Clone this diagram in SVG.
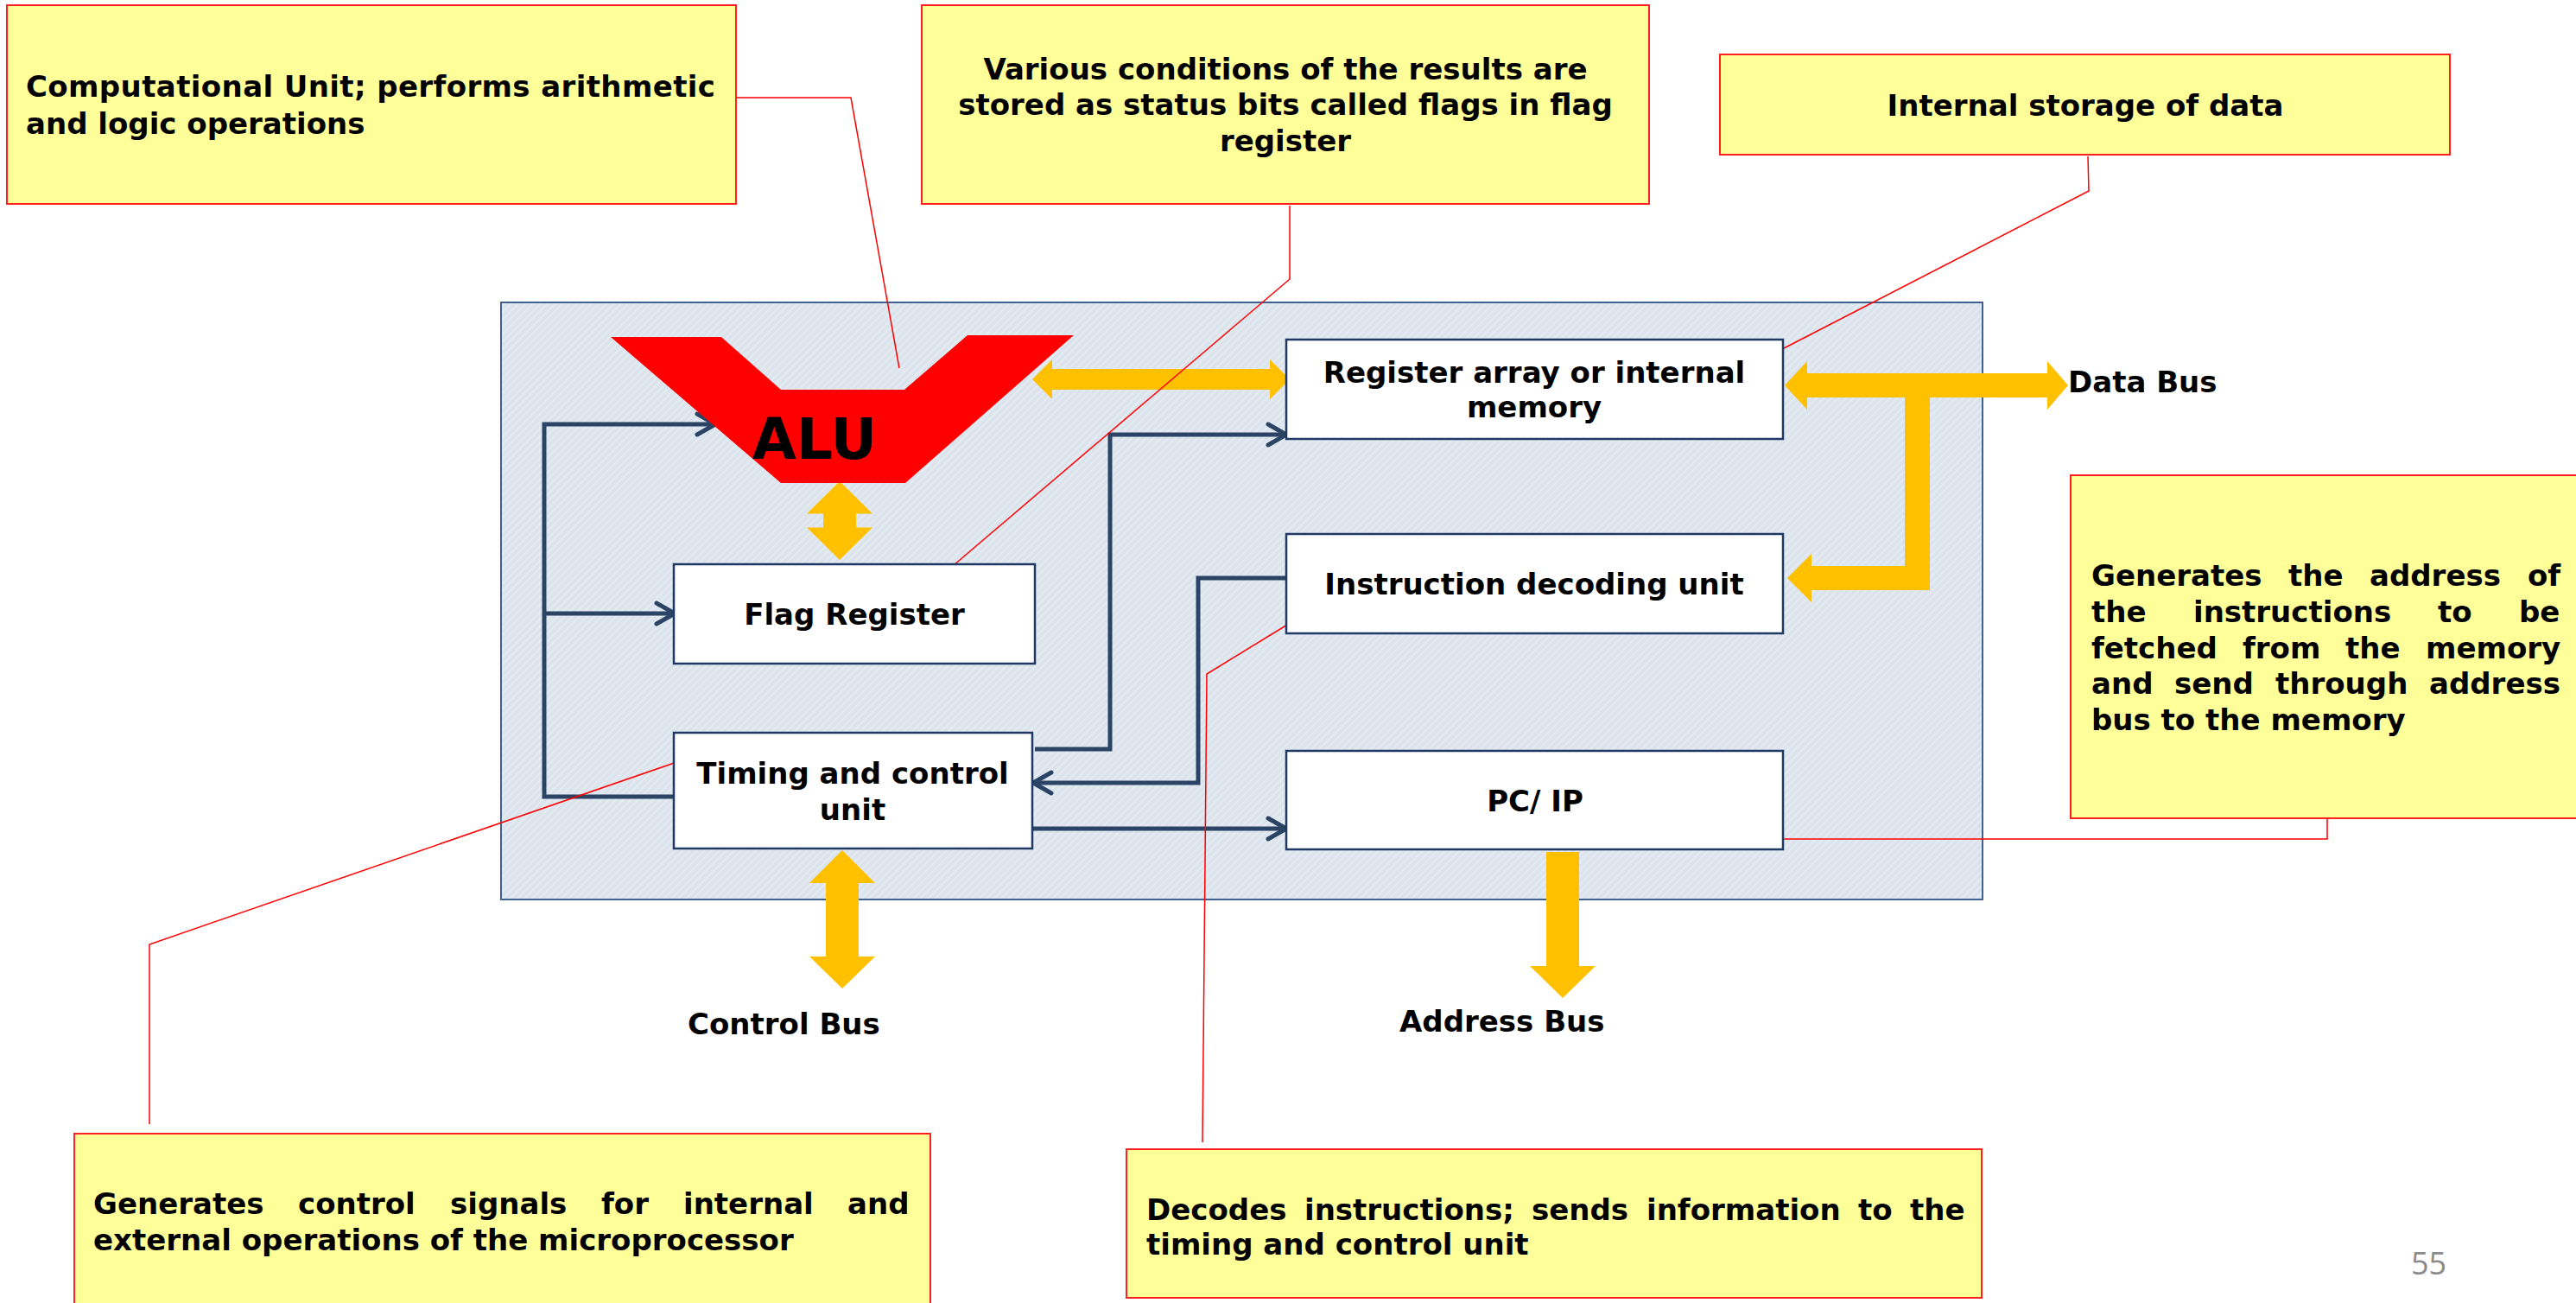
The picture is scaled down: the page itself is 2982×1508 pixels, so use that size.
<svg xmlns="http://www.w3.org/2000/svg" width="2982" height="1508" viewBox="0 0 2982 1508">
  <defs>
    <style>
      .t { font-family: "DejaVu Sans", Verdana, sans-serif; font-weight: bold; font-size: 34px; fill: #000; }
      .c { text-anchor: middle; }
      .callout { fill: #FFFF99; stroke: #FF2020; stroke-width: 2; }
      .box { fill: #FFFFFF; stroke: #1F3864; stroke-width: 2.5; }
      .bus { fill: #FFC000; }
      .wire { fill: none; stroke: #2B4466; stroke-width: 5; }
      .leader { fill: none; stroke: #FF0000; stroke-width: 1.5; }
    </style>
    <pattern id="hatch" width="6" height="6" patternUnits="userSpaceOnUse" patternTransform="rotate(-45)">
      <rect width="6" height="6" fill="#DCE4EE"/>
      <rect width="6" height="1.6" fill="#E9EDF2"/>
    </pattern>
    <marker id="chev" markerUnits="userSpaceOnUse" viewBox="-4 -16 30 32" markerWidth="30" markerHeight="32" refX="22" refY="0" orient="auto">
      <path d="M1,-12 L22,0 L1,12" fill="none" stroke="#2B4466" stroke-width="5" stroke-linecap="round" stroke-linejoin="round"/>
    </marker>
  </defs>

  <rect width="2982" height="1508" fill="#FFFFFF"/>

  <!-- CPU container -->
  <g id="cpu">
    <rect x="580" y="350" width="1715" height="691" fill="url(#hatch)" stroke="#3F6192" stroke-width="2"/>
  </g>

  <!-- connectors -->
  <g id="connectors">
    <!-- navy control wires -->
    <path class="wire" d="M780,922 L630,922 L630,491 L828,491" marker-end="url(#chev)"/>
    <path class="wire" d="M630,710 L781,710" marker-end="url(#chev)"/>
    <path class="wire" d="M1198,867 L1285,867 L1285,503 L1489,503" marker-end="url(#chev)"/>
    <path class="wire" d="M1489,669 L1387,669 L1387,906 L1196,906" marker-end="url(#chev)"/>
    <path class="wire" d="M1195,959 L1489,959" marker-end="url(#chev)"/>

    <!-- yellow buses -->
    <polygon class="bus" points="972,557 1010,594.5 991,594.5 991,610.6 1010,610.6 972,648 934,610.6 953,610.6 953,594.5 934,594.5"/>
    <polygon class="bus" points="1195,439 1218,416 1218,427 1470,427 1470,416 1493,439 1470,462 1470,451 1218,451 1218,462"/>
    <polygon class="bus" points="2066,446 2092,418 2092,432 2370,432 2370,418 2394,446 2370,474 2370,460 2234,460 2234,683 2097,683 2097,697 2069,669 2097,641 2097,655 2205,655 2205,460 2092,460 2092,474"/>
    <polygon class="bus" points="975,984 1013,1022 994,1022 994,1107 1013,1107 975,1144 937,1107 956,1107 956,1022 937,1022"/>
    <polygon class="bus" points="1790,986 1828,986 1828,1118 1847,1118 1809,1155 1771,1118 1790,1118"/>

    <!-- red callout leaders -->
    <polyline class="leader" points="852,113 985,113 1041,426"/>
    <polyline class="leader" points="1493,238 1493,323 1097,660"/>
    <polyline class="leader" points="2417,181 2418,221 2036,418"/>
    <polyline class="leader" points="173,1301 173,1093 789,880"/>
    <polyline class="leader" points="1392,1322 1397,780 1513,709"/>
    <polyline class="leader" points="2062,971 2694,971 2694,940"/>
  </g>

  <!-- bus labels -->
  <g id="label-data-bus"><text class="t" x="2394" y="454">Data Bus</text></g>
  <g id="label-control-bus"><text class="t" x="796" y="1197">Control Bus</text></g>
  <g id="label-address-bus"><text class="t" x="1620" y="1194">Address Bus</text></g>

  <!-- ALU -->
  <g id="alu">
    <polygon points="707,390 835,390 904,451 1047,451 1120,388 1243,388 1048,559 904,559" fill="#FF0000"/>
    <text class="t c" x="943" y="531" style="font-size:66px">ALU</text>
  </g>

  <!-- functional blocks -->
  <g id="flag-register">
    <rect class="box" x="780" y="653" width="418" height="115"/>
    <text class="t c" x="989" y="723">Flag Register</text>
  </g>
  <g id="timing-control">
    <rect class="box" x="780" y="848" width="415" height="134"/>
    <text class="t c" x="987" y="907">Timing and control</text>
    <text class="t c" x="987" y="949">unit</text>
  </g>
  <g id="register-array">
    <rect class="box" x="1489" y="393" width="575" height="115"/>
    <text class="t c" x="1776" y="443">Register array or internal</text>
    <text class="t c" x="1776" y="483">memory</text>
  </g>
  <g id="instruction-decoder">
    <rect class="box" x="1489" y="618" width="575" height="115"/>
    <text class="t c" x="1776" y="688">Instruction decoding unit</text>
  </g>
  <g id="pc-ip">
    <rect class="box" x="1489" y="869" width="575" height="114"/>
    <text class="t c" x="1777" y="939">PC/ IP</text>
  </g>

  <!-- callouts -->
  <g id="callout-alu">
    <rect class="callout" x="8" y="6" width="844" height="230"/>
    <text class="t" x="30" y="112" textLength="798">Computational Unit; performs arithmetic</text>
    <text class="t" x="30" y="155">and logic operations</text>
  </g>
  <g id="callout-flags">
    <rect class="callout" x="1067" y="6" width="842" height="230"/>
    <text class="t c" x="1488" y="92">Various conditions of the results are</text>
    <text class="t c" x="1488" y="133">stored as status bits called flags in flag</text>
    <text class="t c" x="1488" y="175">register</text>
  </g>
  <g id="callout-registers">
    <rect class="callout" x="1991" y="63" width="845" height="116"/>
    <text class="t c" x="2414" y="134">Internal storage of data</text>
  </g>
  <g id="callout-pc">
    <rect class="callout" x="2397" y="550" width="600" height="397"/>
    <text class="t" y="678"><tspan x="2421">Generates</tspan><tspan x="2649">the</tspan><tspan x="2743">address</tspan><tspan x="2926">of</tspan></text>
    <text class="t" y="720"><tspan x="2421">the</tspan><tspan x="2539">instructions</tspan><tspan x="2822">to</tspan><tspan x="2916">be</tspan></text>
    <text class="t" y="762"><tspan x="2421">fetched</tspan><tspan x="2596">from</tspan><tspan x="2715">the</tspan><tspan x="2808">memory</tspan></text>
    <text class="t" y="803"><tspan x="2421">and</tspan><tspan x="2517">send</tspan><tspan x="2634">through</tspan><tspan x="2812">address</tspan></text>
    <text class="t" x="2421" y="845">bus to the memory</text>
  </g>
  <g id="callout-timing">
    <rect class="callout" x="86" y="1312" width="991" height="210"/>
    <text class="t" y="1405"><tspan x="108">Generates</tspan><tspan x="345">control</tspan><tspan x="521">signals</tspan><tspan x="696">for</tspan><tspan x="791">internal</tspan><tspan x="981">and</tspan></text>
    <text class="t" x="108" y="1447">external operations of the microprocessor</text>
  </g>
  <g id="callout-decoder">
    <rect class="callout" x="1304" y="1330" width="990" height="172"/>
    <text class="t" y="1412"><tspan x="1327">Decodes</tspan><tspan x="1510">instructions;</tspan><tspan x="1773">sends</tspan><tspan x="1906">information</tspan><tspan x="2151">to</tspan><tspan x="2211">the</tspan></text>
    <text class="t" x="1327" y="1452">timing and control unit</text>
  </g>

  <g id="page-number">
    <text x="2791" y="1475" style="font-family:'Open Sans','DejaVu Sans',sans-serif;font-size:36px;fill:#8B8B8B">55</text>
  </g>
</svg>
